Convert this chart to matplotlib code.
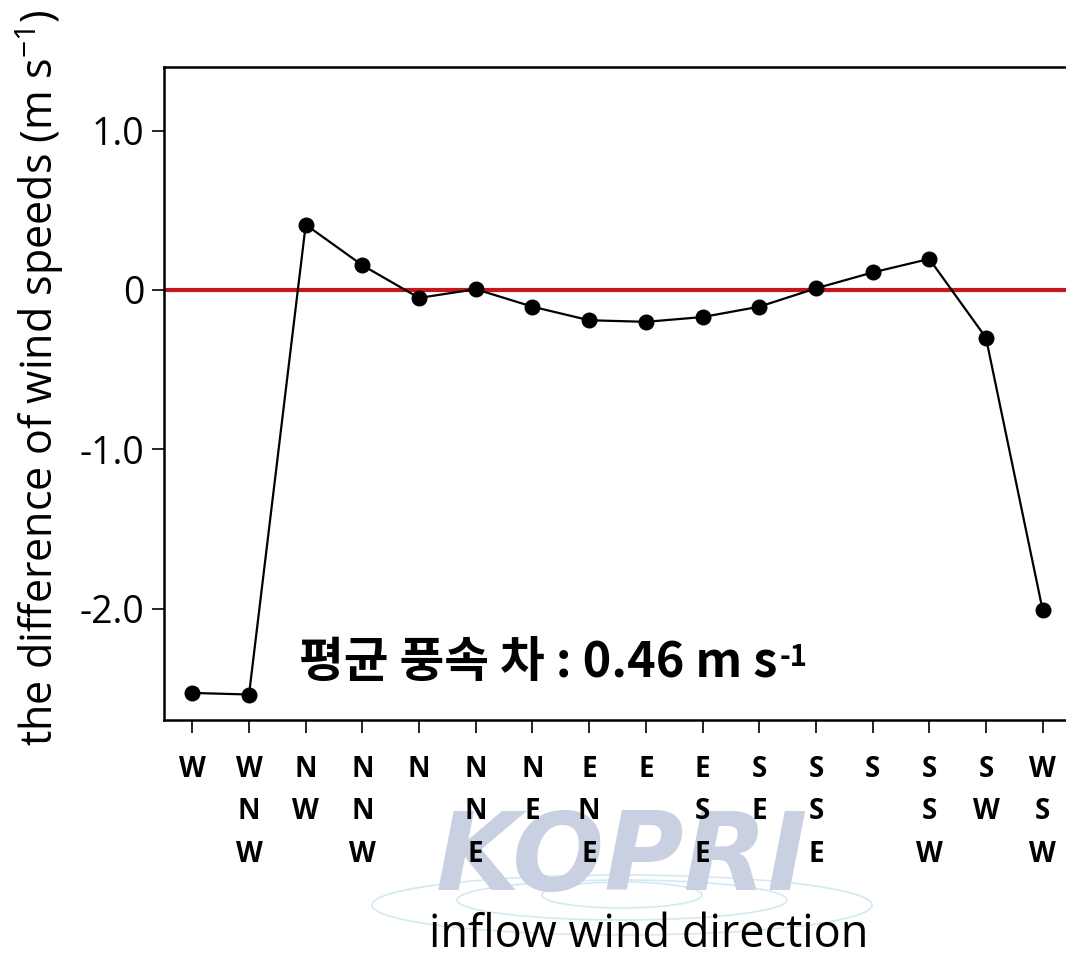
import matplotlib
matplotlib.use("Agg")
import matplotlib.pyplot as plt
from matplotlib.patches import Ellipse

plt.rcParams["font.family"] = ["Open Sans", "DejaVu Sans"]
plt.rcParams["mathtext.fontset"] = "custom"
plt.rcParams["mathtext.rm"] = "Open Sans"

# inflow wind directions (16 sectors) and wind speed differences (m s-1)
directions = ["W", "WNW", "NW", "NNW", "N", "NNE", "NE", "ENE",
              "E", "ESE", "SE", "SSE", "S", "SSW", "SW", "WSW"]
speed_diff = [-2.53, -2.54, 0.41, 0.155, -0.05, 0.005, -0.105, -0.19,
              -0.20, -0.17, -0.105, 0.01, 0.11, 0.195, -0.30, -2.01]
y_ticks = [1.0, 0.0, -1.0, -2.0]
y_tick_labels = ["1.0", "0", "-1.0", "-2.0"]
mean_diff = 0.46

W, H = 1066, 960
fig = plt.figure(figsize=(W / 100, H / 100), dpi=100)
ax = fig.add_axes([164 / W, 1 - 720 / H, 907 / W, 653 / H])
ax.set_facecolor("none")

x = list(range(len(directions)))
ax.axhline(0, color="#c8161d", lw=3.0, zorder=2)
ax.plot(x, speed_diff, color="black", lw=1.6, marker="o", markersize=10.5,
        zorder=3)

ax.set_xlim(-0.5, len(directions) - 0.5)
ax.set_ylim(-2.7, 1.4)

ax.set_yticks(y_ticks)
ax.set_yticklabels(y_tick_labels, fontsize=27)
ax.set_xticks(x)
ax.set_xticklabels(["\n".join(d) for d in directions], fontsize=20,
                   fontweight="bold", va="top", linespacing=1.62)

ax.tick_params(axis="y", length=9, width=1.2, pad=5)
ax.tick_params(axis="x", length=9, width=1.2, pad=16)
for side in ["top", "left", "bottom"]:
    ax.spines[side].set_linewidth(1.8)
ax.spines["right"].set_visible(False)

# mean difference note, with the unit exponent set as a small superscript
note = ax.text(1.89, -2.34, f"평균 풍속 차 : {mean_diff:.2f} m s",
               fontsize=35, fontweight="bold", family=["Noto Sans CJK KR"],
               ha="left", va="center")
ax.annotate("-1", xy=(1.0, 0.93), xycoords=note, xytext=(1, 0),
            textcoords="offset points", fontsize=21, fontweight="bold",
            family=["Noto Sans CJK KR"], ha="left", va="top")

fig.text(40 / W, 1 - 378 / H, "the difference of wind speeds (m s$^{-1}$)",
         rotation=90, ha="center", va="center", fontsize=31)
fig.text(649 / W, 1 - 935 / H, "inflow wind direction",
         ha="center", va="center", fontsize=32.5)

# institutional watermark beneath the axis labels
fig.text(622 / W, 1 - 890 / H, "KOPRI", ha="center", va="baseline",
         fontsize=78, fontweight="bold", style="italic", color="#c9d0e2",
         family=["DejaVu Sans"], zorder=-2)
for (cx, cy, ew, eh) in [(622, 905, 500, 60), (622, 900, 330, 40),
                         (622, 895, 160, 26)]:
    fig.add_artist(Ellipse((cx / W, 1 - cy / H), ew / W, eh / H,
                           transform=fig.transFigure, fill=False,
                           edgecolor="#d3e9f3", lw=1.2, zorder=-2))

fig.savefig("out.png", dpi=100)
